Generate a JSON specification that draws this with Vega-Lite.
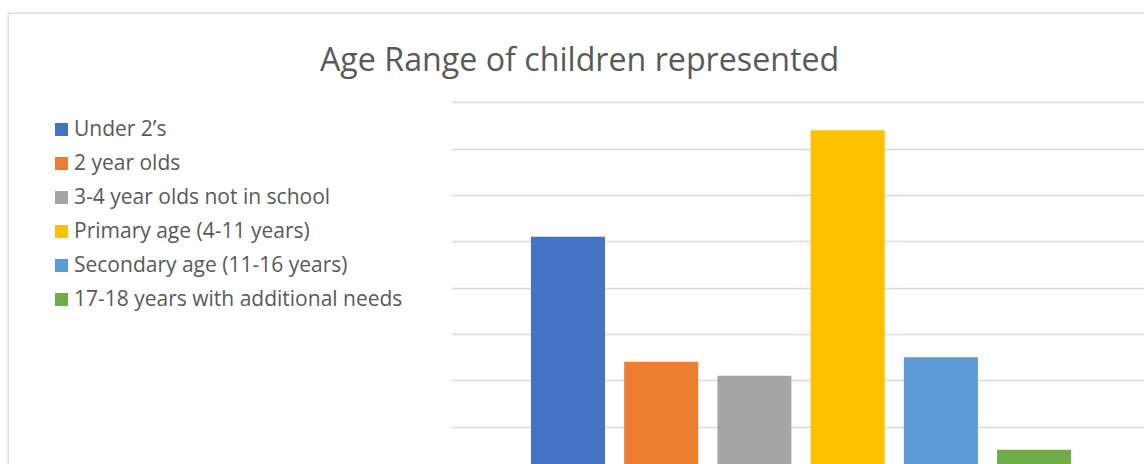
{
  "$schema": "https://vega.github.io/schema/vega-lite/v6.json",
  "width": 1140,
  "height": 455,
  "autosize": {"type": "none"},
  "padding": {"left": 8, "top": 13, "right": -4, "bottom": -4},
  "background": "white",
  "title": {
    "text": "Age Range of children represented",
    "anchor": "start",
    "frame": "group",
    "offset": -65,
    "dx": 312,
    "font": "Open Sans",
    "fontSize": 32.2,
    "fontWeight": "normal",
    "color": "#595959"
  },
  "data": {
    "values": [
      {"age_range": "Under 2’s", "count": 51},
      {"age_range": "2 year olds", "count": 24},
      {"age_range": "3-4 year olds not in school", "count": 21},
      {"age_range": "Primary age (4-11 years)", "count": 74},
      {"age_range": "Secondary age (11-16 years)", "count": 25},
      {"age_range": "17-18 years with additional needs", "count": 5}
    ]
  },
  "mark": {"type": "bar", "clip": true},
  "encoding": {
    "x": {
      "field": "age_range",
      "type": "nominal",
      "sort": null,
      "axis": null,
      "scale": {"range": [443, 1136], "paddingInner": 0.206, "paddingOuter": 0.82, "align": 0.523}
    },
    "y": {
      "field": "count",
      "type": "quantitative",
      "scale": {"domain": [1.08, 99.29], "zero": false, "nice": false},
      "axis": {
        "values": [10, 20, 30, 40, 50, 60, 70, 80],
        "grid": true,
        "gridColor": "#d9d9d9",
        "gridWidth": 1.3,
        "domain": false,
        "ticks": false,
        "labels": false,
        "title": null
      }
    },
    "color": {
      "field": "age_range",
      "type": "nominal",
      "sort": null,
      "scale": {
        "domain": ["Under 2’s", "2 year olds", "3-4 year olds not in school", "Primary age (4-11 years)", "Secondary age (11-16 years)", "17-18 years with additional needs"],
        "range": ["#4472C4", "#ED7D31", "#A5A5A5", "#FFC000", "#5B9BD5", "#70AD47"]
      },
      "legend": {
        "orient": "none",
        "legendX": 43,
        "legendY": 106,
        "title": null,
        "symbolType": "square",
        "symbolSize": 169,
        "symbolStrokeWidth": 0,
        "labelFont": "Open Sans",
        "labelFontSize": 21,
        "labelColor": "#595959",
        "rowPadding": 12,
        "labelOffset": 2,
        "labelLimit": 500
      }
    }
  },
  "config": {"view": {"stroke": "#d9d9d9", "strokeWidth": 1.3}}
}
